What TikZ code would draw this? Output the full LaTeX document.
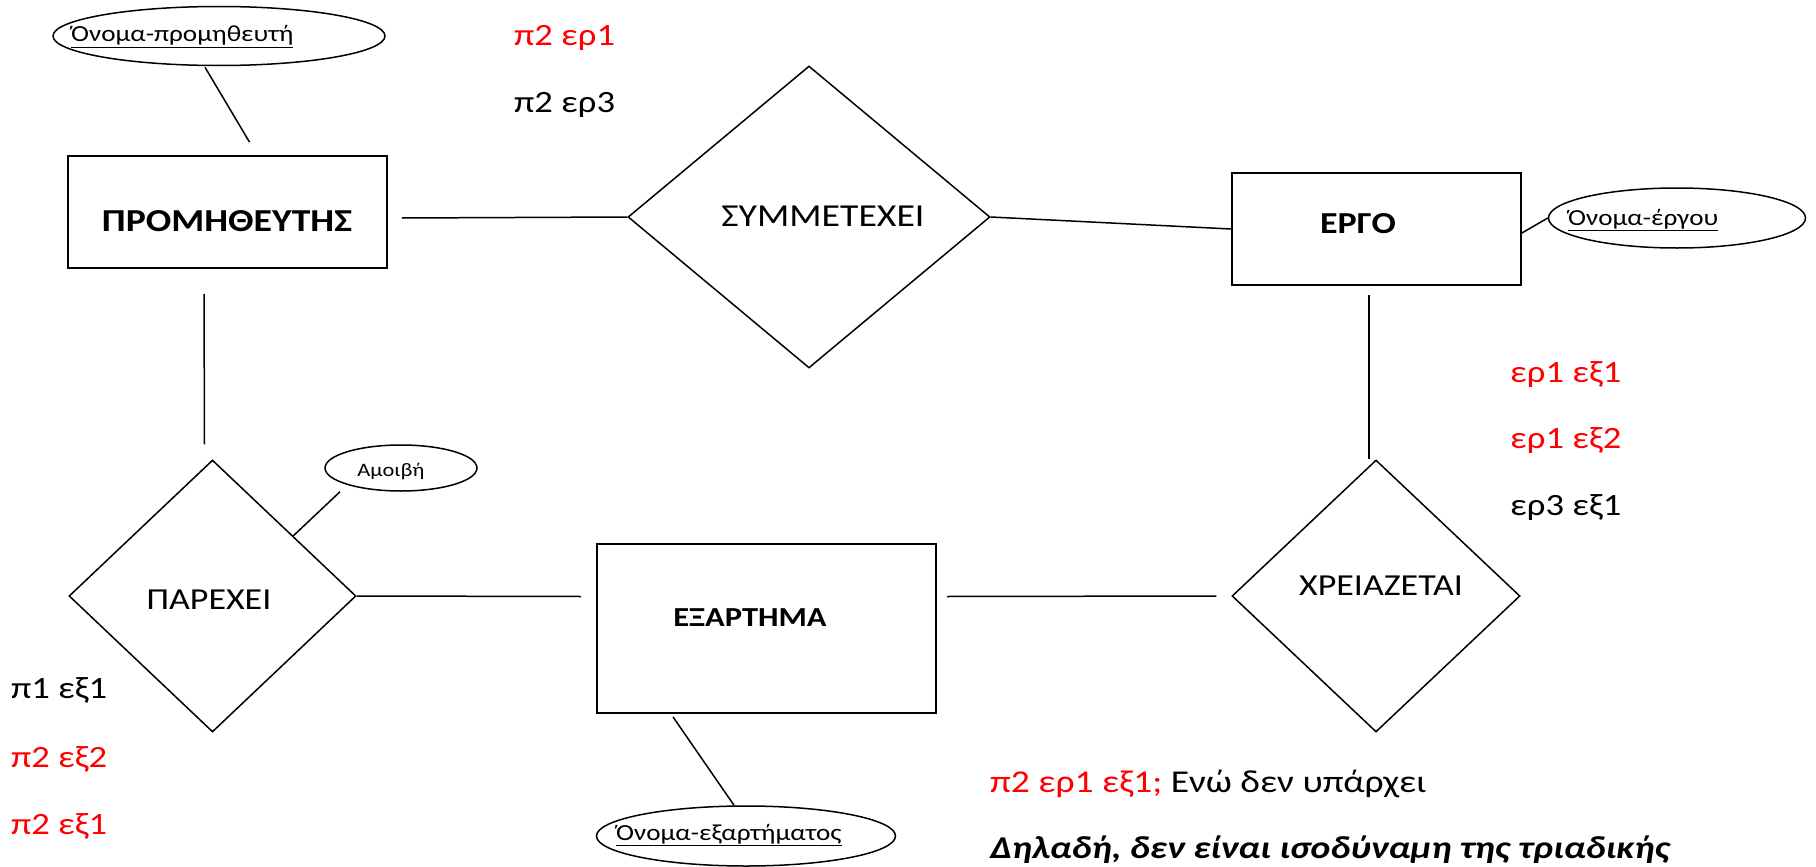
\documentclass[tikz,border=0pt]{standalone}
\usepackage{fontspec}
\setmainfont{Carlito}[FakeStretch=1.18]
\usetikzlibrary{shapes.geometric,calc}
\begin{document}
\begin{tikzpicture}[x=1pt,y=-1pt,
  entbox/.style={draw,line width=1.8pt,rectangle,inner sep=0pt},
  relbox/.style={draw,line width=1.5pt,diamond,inner sep=0pt},
  attr/.style={draw,line width=1.5pt,ellipse,inner sep=0pt},
  conn/.style={line width=1.5pt},
  lbl/.style={font=\fontsize{31}{37}\selectfont,inner sep=0pt,anchor=base west},
  ttl/.style={font=\fontsize{#1}{38}\selectfont\bfseries,inner sep=0pt,anchor=base},
  reltxt/.style={font=\fontsize{#1}{38}\selectfont,inner sep=0pt,anchor=base},
  attrtxt/.style={font=\fontsize{23}{28}\selectfont,inner sep=0pt,anchor=base west},
  redtxt/.style={text=red}
]
\useasboundingbox (0,0) rectangle (1816,867);
% entities
\node[entbox,minimum width=319pt,minimum height=112pt] (p) at (227.5,212) {};
\node[ttl=32] (pt) at (227,231) {ΠΡΟΜΗΘΕΥΤΗΣ};
\node[entbox,minimum width=289pt,minimum height=112pt] (g) at (1376.5,229) {};
\node[ttl=30.5] (gt) at (1358,233) {ΕΡΓΟ};
\node[entbox,minimum width=339pt,minimum height=169pt] (r) at (766.5,628.5) {};
\node[ttl=27.5] (rt) at (750,626) {ΕΞΑΡΤΗΜΑ};
% relationships
\node[relbox,minimum width=362pt,minimum height=302pt] (s) at (809,217) {};
\node[reltxt=32] (st) at (823,226) {ΣΥΜΜΕΤΕΧΕΙ};
\node[relbox,minimum width=288pt,minimum height=272pt] (x) at (1376,596) {};
\node[reltxt=30.5] (xt) at (1381,595) {ΧΡΕΙΑΖΕΤΑΙ};
\node[relbox,minimum width=287pt,minimum height=272pt] (d) at (212.5,596) {};
\node[reltxt=30.5] (dt) at (209,609) {ΠΑΡΕΧΕΙ};
% attributes
\node[attr,minimum width=332pt,minimum height=59pt] (e1) at (219,36) {};
\node[attrtxt] (e1t) at (71,42) {\underline{Όνομα-προμηθευτή}};
\node[attr,minimum width=257pt,minimum height=60pt] (e2) at (1677,218) {};
\node[attrtxt] (e2t) at (1568,225) {\underline{Όνομα-έργου}};
\node[attr,minimum width=299pt,minimum height=60pt] (e3) at (746,836) {};
\node[attrtxt] (e3t) at (616,840) {\underline{Όνομα-εξαρτήματος}};
\node[attr,minimum width=152pt,minimum height=46pt] (e4) at (401,468) {};
\node[attrtxt,font=\fontsize{19}{23}\selectfont,anchor=base] (e4t) at (391,476) {Αμοιβή};
% connectors
\draw[conn] ($(e1.south)+(-14,1)$) -- ($(p.north)+(22,-13)$);
\draw[conn] ($(p.east)+(14,6)$) -- (s.west);
\draw[conn] (s.east) -- (g.west);
\draw[conn] ($(g.east)+(0,4)$) -- (e2.west);
\draw[conn] ($(g.south)+(-7.5,9)$) -- ($(x.north)+(-7,0)$);
\draw[conn] ($(r.east)+(10,-32)$) -- ($(x.west)+(-15,0)$);
\draw[conn] ($(r.south)+(-93.5,3)$) -- ($(e3.north)+(-12,0)$);
\draw[conn] (d.east) -- ($(r.west)+(-15,-32)$);
\draw[conn] ($(p.south)+(-23.5,25)$) -- ($(d.north)+(-8,-15)$);
\draw[conn] ($(e4.south)+(-61,0)$) -- ($(d.north)!0.56!(d.east)$);
% annotations
\node[lbl,redtxt] (a1) at (514,46) {π2 ερ1};
\node[lbl] (a2) at (514,112) {π2 ερ3};
\node[lbl,redtxt] (b1) at (1510,382) {ερ1 εξ1};
\node[lbl,redtxt] (b2) at (1510,448) {ερ1 εξ2};
\node[lbl] (b3) at (1510,515) {ερ3 εξ1};
\node[lbl] (c1) at (11,698) {π1 εξ1};
\node[lbl,redtxt] (c2) at (11,767) {π2 εξ2};
\node[lbl,redtxt] (c3) at (11,834) {π2 εξ1};
\node[lbl,font=\fontsize{31.8}{37}\selectfont] (n1) at (990,792) {\textcolor{red}{π2 ερ1 εξ1;} Ενώ δεν υπάρχει};
\node[lbl,font=\fontsize{31.8}{37}\selectfont\bfseries\itshape] (n2) at (990,858) {Δηλαδή, δεν είναι ισοδύναμη της τριαδικής};
\end{tikzpicture}
\end{document}
